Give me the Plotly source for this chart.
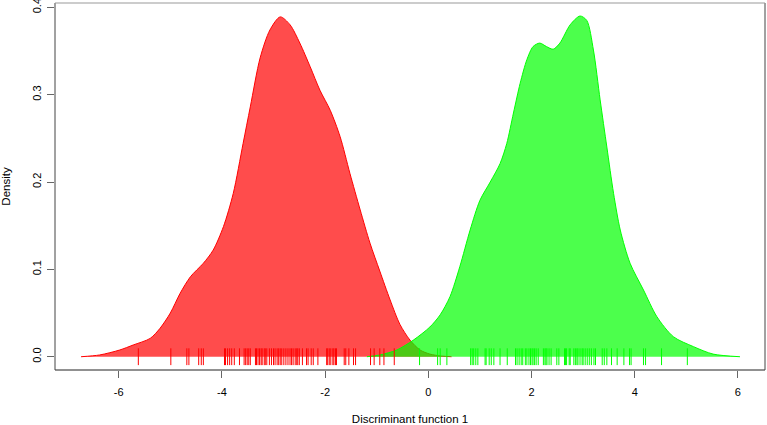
import plotly.graph_objects as go

# Density curve of group 1 (red)
red_x = [-6.73, -6.37, -5.98, -5.72, -5.39, -5.20, -5.00, -4.81, -4.61, -4.36, -4.17, -3.97,
         -3.78, -3.59, -3.45, -3.26, -3.07, -2.87, -2.68, -2.49, -2.29, -2.10, -1.90, -1.71,
         -1.52, -1.32, -1.13, -0.94, -0.74, -0.55, -0.355, -0.16, 0.03, 0.25, 0.45]
red_y = [0.0, 0.002, 0.0077, 0.0134, 0.021, 0.0325, 0.050, 0.0726, 0.0916, 0.107, 0.122, 0.149,
         0.187, 0.244, 0.286, 0.342, 0.374, 0.389, 0.380, 0.359, 0.332, 0.305, 0.282, 0.252,
         0.210, 0.168, 0.130, 0.098, 0.065, 0.037, 0.019, 0.0077, 0.003, 0.0008, 0.0]

# Density curve of group 2 (green)
green_x = [-1.19, -0.94, -0.61, -0.29, 0.03, 0.23, 0.42, 0.61, 0.81, 1.00, 1.20, 1.39, 1.52,
           1.65, 1.78, 1.91, 2.03, 2.16, 2.29, 2.42, 2.55, 2.75, 2.94, 3.07, 3.20, 3.33, 3.46,
           3.59, 3.72, 3.91, 4.17, 4.43, 4.75, 5.14, 5.52, 6.04]
green_y = [0.0, 0.002, 0.0077, 0.019, 0.034, 0.048, 0.0687, 0.103, 0.145, 0.179, 0.200, 0.221,
           0.244, 0.279, 0.313, 0.340, 0.355, 0.359, 0.355, 0.352, 0.359, 0.380, 0.390, 0.385,
           0.351, 0.294, 0.240, 0.187, 0.145, 0.107, 0.0764, 0.0458, 0.0229, 0.0115, 0.003, 0.0]

# Rug (individual discriminant scores)
red_rug = [-5.62, -4.99, -4.68, -4.64, -4.45, -4.40, -4.36, -3.95, -3.93, -3.89, -3.85, -3.81,
           -3.76, -3.66, -3.57, -3.54, -3.51, -3.48, -3.45, -3.35, -3.33, -3.30, -3.27, -3.24,
           -3.22, -3.18, -3.16, -3.13, -3.08, -3.04, -3.00, -2.97, -2.93, -2.90, -2.87, -2.84,
           -2.80, -2.76, -2.72, -2.68, -2.65, -2.62, -2.58, -2.55, -2.53, -2.50, -2.44, -2.36,
           -2.33, -2.27, -2.23, -2.14, -1.97, -1.95, -1.92, -1.89, -1.85, -1.83, -1.80, -1.78,
           -1.63, -1.60, -1.54, -1.45, -1.41, -1.12, -1.05, -0.94, -0.86, -0.66]
green_rug = [-0.17, 0.18, 0.23, 0.36, 0.82, 0.85, 0.88, 0.92, 0.96, 1.10, 1.12, 1.18, 1.22,
             1.27, 1.39, 1.53, 1.69, 1.72, 1.76, 1.80, 1.83, 1.88, 1.91, 1.95, 1.98, 2.01,
             2.03, 2.06, 2.09, 2.13, 2.23, 2.26, 2.28, 2.30, 2.34, 2.38, 2.49, 2.53, 2.64,
             2.66, 2.68, 2.73, 2.75, 2.82, 2.85, 2.88, 2.90, 2.94, 2.98, 3.00, 3.04, 3.08,
             3.12, 3.16, 3.21, 3.24, 3.37, 3.41, 3.46, 3.55, 3.66, 3.79, 3.90, 3.93, 4.17,
             4.21, 4.52, 5.02]

x_ticks = [-6, -4, -2, 0, 2, 4, 6]
x_tick_labels = ["-6", "-4", "-2", "0", "2", "4", "6"]
y_ticks = [0.0, 0.1, 0.2, 0.3, 0.4]
y_tick_labels = ["0.0", "0.1", "0.2", "0.3", "0.4"]

FONT = "Liberation Sans, Arial, sans-serif"

fig = go.Figure()
fig.add_trace(go.Scatter(x=red_x, y=red_y, mode="lines", fill="tozeroy",
                         fillcolor="rgba(255,0,0,0.7)",
                         line=dict(color="rgb(255,0,0)", width=1, shape="spline", smoothing=0.8),
                         showlegend=False, hoverinfo="skip"))
fig.add_trace(go.Scatter(x=green_x, y=green_y, mode="lines", fill="tozeroy",
                         fillcolor="rgba(0,255,0,0.7)",
                         line=dict(color="rgb(0,255,0)", width=1, shape="spline", smoothing=0.8),
                         showlegend=False, hoverinfo="skip"))
fig.add_trace(go.Scatter(x=red_rug, y=[0] * len(red_rug), mode="markers",
                         marker=dict(symbol="line-ns", size=12, line=dict(width=1, color="rgb(255,0,0)")),
                         showlegend=False, hoverinfo="skip"))
fig.add_trace(go.Scatter(x=green_rug, y=[0] * len(green_rug), mode="markers",
                         marker=dict(symbol="line-ns", size=12, line=dict(width=1, color="rgb(0,255,0)")),
                         showlegend=False, hoverinfo="skip"))

# plot box (R style)
for (x0, y0, x1, y1, c) in [(0, 0, 1, 0, "#222"), (0, 0, 0, 1, "#444"),
                            (1, 0, 1, 1, "#444"), (0, 1, 1, 1, "#999")]:
    fig.add_shape(type="line", xref="paper", yref="paper", x0=x0, y0=y0, x1=x1, y1=y1,
                  line=dict(color=c, width=1))

fig.update_layout(
    width=767, height=425, autosize=False,
    margin=dict(l=55, r=2, t=3, b=55, autoexpand=False),
    paper_bgcolor="white", plot_bgcolor="white",
    font=dict(family=FONT, size=11, color="black"),
    xaxis=dict(range=[-7.235, 6.525], tickvals=x_ticks, ticktext=x_tick_labels,
               ticks="outside", ticklen=7, automargin=False, ticklabelstandoff=5,
               ticklabeloverflow="allow",
               tickcolor="#666", tickwidth=1, showgrid=False, zeroline=False, showline=False,
               tickfont=dict(size=11),
               title=dict(text="Discriminant function 1", font=dict(size=11.5), standoff=18)),
    yaxis=dict(range=[-0.0152, 0.4049], tickvals=y_ticks, ticktext=y_tick_labels,
               ticks="outside", ticklen=7, tickcolor="#666", tickwidth=1, tickangle=-90,
               automargin=False, ticklabelstandoff=2, ticklabeloverflow="allow",
               showgrid=False, zeroline=False, showline=False, tickfont=dict(size=11),
               title=dict(text="Density", font=dict(size=11.5), standoff=19)),
)

post = ("document.body.style.margin='0px';document.body.style.padding='0px';"
        "document.body.style.overflow='hidden';"
        "var gd=document.getElementById('{plot_id}');"
        "Plotly.relayout(gd,{width:767,height:425});")

fig.write_html("out.html", config={"responsive": False, "displayModeBar": False},
               post_script=post)
